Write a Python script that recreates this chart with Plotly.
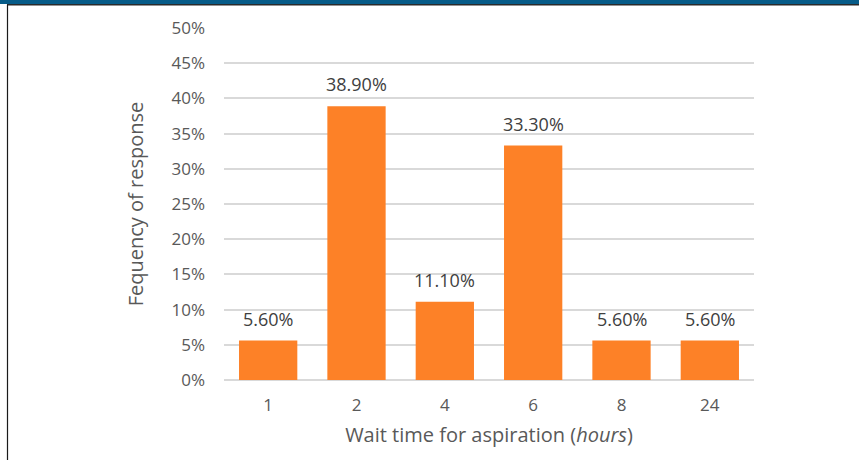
import plotly.graph_objects as go

# Survey responses: wait time before aspiration (hours) vs. share of respondents
wait_hours = ["1", "2", "4", "6", "8", "24"]
response_share = [0.056, 0.389, 0.111, 0.333, 0.056, 0.056]
y_ticks = [0, 0.05, 0.10, 0.15, 0.20, 0.25, 0.30, 0.35, 0.40, 0.45, 0.50]

W, H = 859, 460
L, R, T, B = 224, 105, 28, 80
pw, ph = W - L - R, H - T - B


def px_x(x):
    return (x - L) / pw


def px_y(y):
    return (H - B - y) / ph


fig = go.Figure()
fig.add_trace(go.Bar(
    x=wait_hours,
    y=response_share,
    marker=dict(color="#fd8127", line=dict(width=0)),
    hoverinfo="skip",
))

# Value labels above each bar (x given as category index)
for i, val in enumerate(response_share):
    fig.add_annotation(
        x=i, y=val, xref="x", yref="y",
        text=f"{val * 100:.2f}%",
        showarrow=False, yanchor="bottom", yshift=8,
        font=dict(family="Open Sans", size=18, color="#404040"),
    )

fig.update_layout(
    width=W, height=H,
    margin=dict(l=L, r=R, t=T, b=B),
    paper_bgcolor="white",
    plot_bgcolor="white",
    bargap=0.34,
    showlegend=False,
    font=dict(family="Open Sans", color="#595959"),
    xaxis=dict(
        type="category",
        range=[-0.5, len(wait_hours) - 0.5],
        showgrid=False,
        showline=False,
        ticks="",
        tickfont=dict(size=17, color="#595959"),
        ticklabelstandoff=13,
        title=dict(text="Wait time for aspiration (<i>hours</i>)",
                   font=dict(size=20, color="#595959"), standoff=12),
    ),
    yaxis=dict(
        range=[0, 0.5],
        tickvals=y_ticks,
        tickformat=".0%",
        showgrid=True,
        gridcolor="#d9d9d9",
        gridwidth=2,
        zeroline=True,
        zerolinecolor="#d9d9d9",
        zerolinewidth=2,
        showline=False,
        ticks="",
        tickfont=dict(size=17, color="#595959"),
        ticklabelstandoff=18,
        title=dict(text="Fequency of response",
                   font=dict(size=20, color="#595959"), standoff=22),
    ),
)

# Header band and frame lines
fig.add_shape(type="rect", xref="paper", yref="paper",
              x0=px_x(0), x1=px_x(W), y0=px_y(4), y1=px_y(0),
              fillcolor="#065b88", line=dict(width=0), layer="above")
fig.add_shape(type="line", xref="paper", yref="paper",
              x0=px_x(7), x1=px_x(W), y0=px_y(4.8), y1=px_y(4.8),
              line=dict(color="#2a2a2a", width=1.6), layer="above")
fig.add_shape(type="line", xref="paper", yref="paper",
              x0=px_x(7.5), x1=px_x(7.5), y0=px_y(4.5), y1=px_y(H),
              line=dict(color="#1a1a1a", width=1.2), layer="above")

fig.write_html("out.html")
